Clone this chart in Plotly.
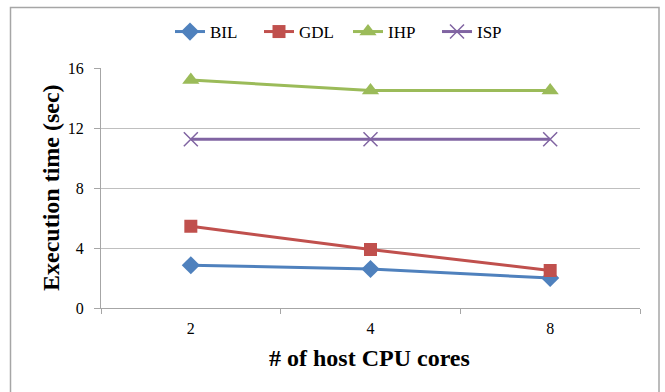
import plotly.graph_objects as go

categories = ["2", "4", "8"]
bil = [2.85, 2.6, 2.0]
gdl = [5.45, 3.9, 2.5]
ihp = [15.2, 14.5, 14.5]
isp = [11.25, 11.25, 11.25]
y_ticks = [0, 4, 8, 12, 16]

series = [
    ("BIL", bil, "#4F81BD", "diamond", 14),
    ("GDL", gdl, "#C0504D", "square", 13),
    ("IHP", ihp, "#9BBB59", "triangle-up", 15),
    ("ISP", isp, "#8064A2", "x-thin", 14),
]

FONT = "Liberation Serif"

fig = go.Figure()
for name, vals, color, sym, size in series:
    marker = dict(symbol=sym, size=size, color=color)
    if sym == "x-thin":
        marker["line"] = dict(color=color, width=1.5)
    fig.add_trace(go.Scatter(
        x=categories, y=vals, name=name, mode="lines+markers",
        line=dict(color=color, width=3), marker=marker,
    ))

W, H = 665, 392
L, R, T, B = 101, 25, 68, 84
pw, ph = W - L - R, H - T - B

def px(x):
    return (x - L) / pw

def py(y):
    return (H - B - y) / ph

fig.update_layout(
    width=W, height=H,
    margin=dict(l=L, r=R, t=T, b=B),
    paper_bgcolor="white", plot_bgcolor="white",
    font=dict(family=FONT, size=16, color="black"),
    showlegend=True,
    legend=dict(orientation="h", x=px(348), y=py(32), xanchor="center", yanchor="middle",
                font=dict(family=FONT, size=17, color="black"), itemwidth=30,
                entrywidth=44, entrywidthmode="pixels",
                bgcolor="rgba(0,0,0,0)"),
    xaxis=dict(type="category", range=[-0.5, 2.5], showgrid=False,
               showline=True, linecolor="#A6A6A6", linewidth=1,
               ticks="outside", tickson="boundaries", ticklen=5, tickcolor="#A6A6A6",
               ticklabelstandoff=6,
               tickfont=dict(family=FONT, size=16, color="black"), fixedrange=True),
    yaxis=dict(range=[0, 16], tickvals=y_ticks, showgrid=True, gridcolor="#BFBFBF",
               showline=True, linecolor="#A6A6A6", linewidth=1,
               ticks="outside", ticklen=6, tickcolor="#A6A6A6",
               ticklabelstandoff=7,
               tickfont=dict(family=FONT, size=16, color="black"),
               zeroline=False, fixedrange=True),
    shapes=[dict(type="rect", xref="paper", yref="paper",
                 x0=px(10.5), x1=px(659), y0=py(400), y1=py(7.5),
                 line=dict(color="#A6A6A6", width=1.5), fillcolor="rgba(0,0,0,0)", layer="below")],
    annotations=[
        dict(text="<b>Execution time (sec)</b>", xref="paper", yref="paper",
             x=px(51), y=py(188), showarrow=False, textangle=-90,
             font=dict(family=FONT, size=24, color="black"), xanchor="center", yanchor="middle"),
        dict(text="<b># of host CPU cores</b>", xref="paper", yref="paper",
             x=px(369), y=py(358), showarrow=False,
             font=dict(family=FONT, size=24, color="black"), xanchor="center", yanchor="middle"),
    ],
)

fig.write_html("out.html")
